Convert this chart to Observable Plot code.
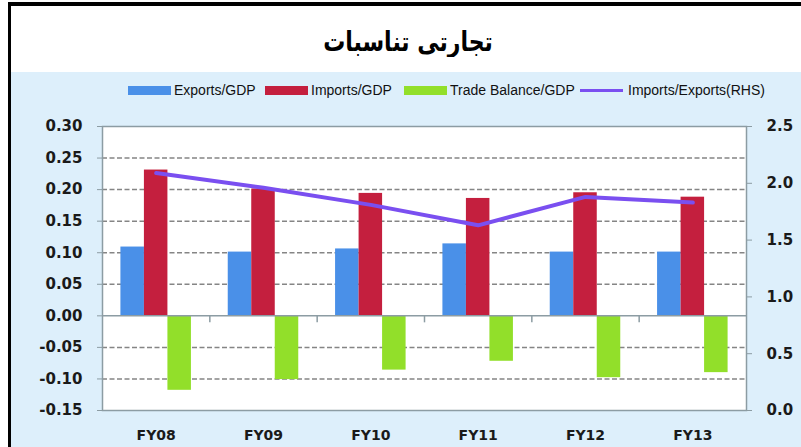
<!DOCTYPE html>
<html>
<head>
<meta charset="utf-8">
<script src="https://cdn.jsdelivr.net/npm/d3@7"></script>
<script src="https://cdn.jsdelivr.net/npm/@observablehq/plot@0.6"></script>
<style>
  html, body { margin: 0; padding: 0; background: #ffffff; }
  #wrap { position: relative; width: 801px; height: 447px; overflow: hidden; background: #ffffff; }
  .blk { position: absolute; background: #000; }
  #panel { position: absolute; left: 11px; top: 72px; width: 790px; height: 375px; background: #ddeffb; }
  #title { position: absolute; left: 258px; width: 300px; top: 20px; height: 44px; line-height: 44px;
           text-align: center; font-family: "DejaVu Sans", sans-serif; font-weight: bold; font-size: 22px;
           direction: rtl; color: #000; transform: scaleY(1.25); }
  .sw { position: absolute; top: 86px; height: 9px; }
  .ln { position: absolute; top: 89px; height: 3px; }
  .lt { position: absolute; top: 81px; height: 18px; line-height: 18px; font-family: "Liberation Sans", sans-serif;
        font-size: 14px; color: #111; white-space: nowrap; }
  #chart { position: absolute; left: 0; top: 110px; }
</style>
</head>
<body>
<div id="wrap">
  <div id="panel"></div>
  <div class="blk" style="left:8px; top:2px; width:793px; height:4px;"></div>
  <div class="blk" style="left:8px; top:2px; width:3px; height:445px;"></div>
  <div id="title">تجارتی تناسبات</div>
  <div id="legend"></div>
  <div id="chart"></div>
</div>
<script>
// ---- data ----
const years = ["FY08", "FY09", "FY10", "FY11", "FY12", "FY13"];
const exportsGDP = [0.109, 0.101, 0.106, 0.114, 0.101, 0.101];
const importsGDP = [0.231, 0.201, 0.194, 0.186, 0.195, 0.188];
const balanceGDP = [-0.118, -0.101, -0.086, -0.072, -0.098, -0.090];
const importsExports = [2.09, 1.96, 1.81, 1.63, 1.88, 1.83];
const seriesNames = ["Exports/GDP", "Imports/GDP", "Trade Balance/GDP"];
const lineName = "Imports/Exports(RHS)";
const leftTicks = [-0.15, -0.10, -0.05, 0.00, 0.05, 0.10, 0.15, 0.20, 0.25, 0.30];
const rightTicks = [0.0, 0.5, 1.0, 1.5, 2.0, 2.5];
const colors = ["#4a90e8", "#c41f3e", "#92df2a"];
const lineColor = "#7a4ff0";

// ---- scales helpers ----
const yMin = -0.15, yMax = 0.30, rMax = 2.5;
const toLeft = r => yMin + r * (yMax - yMin) / rMax;
const fromLeft = v => (v - yMin) * rMax / (yMax - yMin);
const BAR = 0.219; // bar width as fraction of a category band

const rows = [];
years.forEach((yr, i) => {
  [exportsGDP, importsGDP, balanceGDP].forEach((arr, k) => {
    rows.push({ i, k, year: yr, series: seriesNames[k], value: arr[i] });
  });
});
const ratio = years.map((yr, i) => ({ i, year: yr, r: importsExports[i] }));

// ---- legend ----
const legend = document.getElementById("legend");
const legendItems = [
  { type: "sw", color: colors[0], sx: 128, tx: 174, label: seriesNames[0] },
  { type: "sw", color: colors[1], sx: 265, tx: 311, label: seriesNames[1] },
  { type: "sw", color: colors[2], sx: 404, tx: 450, label: seriesNames[2] },
  { type: "ln", color: lineColor, sx: 580, tx: 628, label: lineName }
];
legendItems.forEach(it => {
  const s = document.createElement("div");
  s.className = it.type;
  s.style.left = it.sx + "px";
  s.style.width = "43px";
  s.style.background = it.color;
  legend.appendChild(s);
  const t = document.createElement("div");
  t.className = "lt";
  t.style.left = it.tx + "px";
  t.textContent = it.label;
  legend.appendChild(t);
});

// ---- chart ----
const gridStroke = "#858585";
const axisStroke = "#8c9ca3";
const chart = Plot.plot({
  width: 801,
  height: 337,
  marginLeft: 102,
  marginRight: 55,
  marginTop: 16,
  marginBottom: 37,
  style: { background: "transparent", fontFamily: "DejaVu Sans, sans-serif", fontSize: "15px", fontWeight: "bold", color: "#1a1a1a" },
  x: { type: "linear", domain: [0, years.length], axis: null },
  y: { domain: [yMin, yMax], axis: null },
  color: { domain: seriesNames, range: colors },
  marks: [
    Plot.frame({ fill: "white", stroke: "none" }),
    Plot.ruleY(leftTicks.filter(v => v !== 0 && v !== yMax && v !== yMin), { stroke: gridStroke, strokeWidth: 1.5, strokeDasharray: "5,2.5" }),
    Plot.rectY(rows, {
      x1: d => d.i + 0.5 + (d.k - 1.5) * BAR,
      x2: d => d.i + 0.5 + (d.k - 0.5) * BAR,
      y1: 0,
      y2: "value",
      fill: "series"
    }),
    Plot.ruleY([0], { stroke: axisStroke, strokeWidth: 1.5 }),
    Plot.ruleX(d3.range(1, years.length), { x: d => d, y1: 0, y2: 0, insetBottom: -7, stroke: axisStroke, strokeWidth: 1.5 }),
    Plot.line(ratio, { x: d => d.i + 0.5, y: d => toLeft(d.r), stroke: lineColor, strokeWidth: 4, strokeLinecap: "round", strokeLinejoin: "round" }),
    Plot.frame({ stroke: axisStroke, strokeWidth: 1.5 }),
    Plot.axisY(leftTicks, { anchor: "left", label: null, tickSize: 5, tickPadding: 15, tickFormat: d => d.toFixed(2), stroke: axisStroke, fill: "#1a1a1a", fontSize: 15, fontWeight: "bold" }),
    Plot.axisY(rightTicks.map(toLeft), { anchor: "right", label: null, tickSize: 5, tickPadding: 15, tickFormat: d => fromLeft(d).toFixed(1), stroke: axisStroke, fill: "#1a1a1a", fontSize: 15, fontWeight: "bold" }),
    Plot.axisX(years.map((_, i) => i + 0.5), { anchor: "bottom", label: null, tickSize: 0, tickPadding: 20, tickFormat: d => years[Math.floor(d)], fill: "#1a1a1a", fontSize: 14, fontWeight: "bold" })
  ]
});
document.getElementById("chart").appendChild(chart);
</script>
</body>
</html>
